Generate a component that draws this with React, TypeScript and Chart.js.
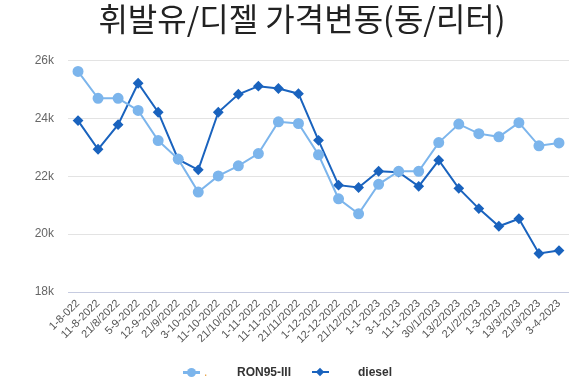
import React, { useEffect, useRef } from "react";
import { Chart, registerables } from "chart.js";

Chart.register(...registerables);

const TITLE = "휘발유/디젤 가격변동(동/리터)";
const categories = [
  "1-8-022", "11-8-2022", "21/8/2022", "5-9-2022", "12-9-2022", "21/9/2022",
  "3-10-2022", "11-10-2022", "21/10/2022", "1-11-2022", "11-11-2022", "21/11/2022",
  "1-12-2022", "12-12-2022", "21/12/2022", "1-1-2023", "3-1-2023", "11-1-2023",
  "30/1/2023", "13/2/2023", "21/2/2023", "1-3-2023", "13/3/2023", "21/3/2023", "3-4-2023",
];
const ron95 = [
  25620, 24690, 24690, 24270, 23230, 22590, 21450, 22010, 22360, 22780, 23880, 23820,
  22740, 21220, 20700, 21720, 22170, 22170, 23160, 23800, 23470, 23360, 23850, 23050, 23150,
];
const diesel = [
  23920, 22930, 23780, 25210, 24210, 22580, 22220, 24210, 24830, 25110, 25030, 24850,
  23240, 21690, 21610, 22170, 22140, 21650, 22550, 21580, 20880, 20270, 20530, 19330, 19430,
];
const yMin = 18000;
const yMax = 26000;
const yStep = 2000;

const LIGHT = "#7cb5ec";
const DARK = "#1a63be";

export default function App() {
  const ref = useRef<HTMLCanvasElement | null>(null);
  useEffect(() => {
    document.body.style.margin = "0";
    const ctx = ref.current!;
    const chart = new Chart(ctx, {
      type: "line",
      data: {
        labels: categories,
        datasets: [
          {
            label: "RON95-III",
            data: ron95,
            borderColor: LIGHT,
            backgroundColor: LIGHT,
            borderWidth: 2,
            pointStyle: "circle",
            pointRadius: 4.5,
            tension: 0,
          },
          {
            label: "diesel",
            data: diesel,
            borderColor: DARK,
            backgroundColor: DARK,
            borderWidth: 2,
            pointStyle: "rectRot",
            pointRadius: 4,
            tension: 0,
          },
        ],
      },
      options: {
        animation: false,
        responsive: false,
        layout: { padding: { left: 35, right: 15, top: 0, bottom: 0 } },
        plugins: {
          legend: { display: false },
          tooltip: { enabled: false },
          title: {
            display: true,
            text: TITLE,
            color: "#222",
            font: { family: "'Noto Sans CJK KR'", size: 32, weight: "normal", lineHeight: 1.2 },
            padding: { top: 0, bottom: 22 },
          },
        },
        scales: {
          x: {
            offset: true,
            grid: { display: false, drawTicks: false },
            border: { display: false },
            ticks: {
              autoSkip: false,
              minRotation: 45,
              maxRotation: 45,
              padding: 5,
              color: "#555",
              font: { family: "'Liberation Sans', Arial", size: 11 },
            },
            afterFit: (s: any) => {
              s.height = 87;
            },
          },
          y: {
            min: yMin,
            max: yMax,
            ticks: {
              stepSize: yStep,
              padding: 14,
              color: "#666",
              font: { family: "'Liberation Sans', Arial", size: 12 },
              callback: (v: any) => Number(v) / 1000 + "k",
            },
            grid: {
              drawTicks: false,
              color: (c: any) => (c.index === 0 ? "#c6cbe0" : "#e3e3e3"),
              lineWidth: 1,
            },
            border: { display: false },
            afterFit: (s: any) => {
              s.width = 33;
            },
          },
        },
      },
    });
    return () => chart.destroy();
  }, []);

  const textStyle: React.CSSProperties = {
    position: "absolute",
    top: 364,
    fontFamily: "'Liberation Sans', Arial",
    fontWeight: "bold",
    fontSize: 12,
    color: "#333",
    lineHeight: "16px",
  };
  return (
    <div style={{ position: "relative", width: 584, height: 379, overflow: "hidden", background: "#fff" }}>
      <canvas ref={ref} width={584} height={379} style={{ display: "block" }} />
      <div style={{ position: "absolute", left: 183, top: 371, width: 17, height: 3, background: LIGHT }} />
      <div style={{ position: "absolute", left: 187, top: 368, width: 9, height: 9, borderRadius: "50%", background: LIGHT }} />
      <div style={{ ...textStyle, left: 204, color: "#e8a040", fontWeight: "normal" }}>.</div>
      <div style={{ ...textStyle, left: 237 }}>RON95-III</div>
      <div style={{ position: "absolute", left: 312, top: 371, width: 17, height: 2, background: DARK }} />
      <div style={{ position: "absolute", left: 317, top: 369, width: 6, height: 6, background: DARK, transform: "rotate(45deg)" }} />
      <div style={{ ...textStyle, left: 358 }}>diesel</div>
    </div>
  );
}
